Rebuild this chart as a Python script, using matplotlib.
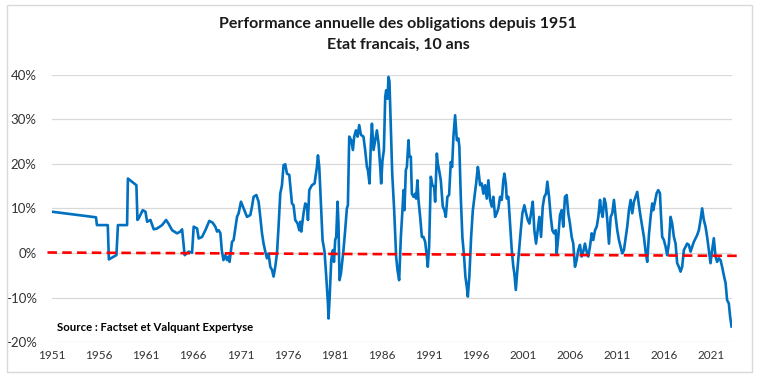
import matplotlib
matplotlib.use("Agg")
import matplotlib.pyplot as plt
from matplotlib.patches import Rectangle
from matplotlib.ticker import FuncFormatter

plt.rcParams['font.family'] = ['Lato', 'DejaVu Sans']

# Performance annuelle (en %) de l'OAT 10 ans
years = [
    1951.00, 1955.67, 1955.77, 1956.92, 1957.04, 1957.84, 1958.00, 1958.97, 1959.06, 1959.96,
    1960.07, 1960.20, 1960.63, 1960.92, 1961.10, 1961.45, 1961.80, 1962.16, 1962.69, 1963.11,
    1963.39, 1963.75, 1964.28, 1964.63, 1964.81, 1965.08, 1965.51, 1965.87, 1966.04, 1966.40,
    1966.57, 1966.93, 1967.28, 1967.70, 1968.05, 1968.34, 1968.52, 1968.69, 1968.87, 1969.03,
    1969.20, 1969.40, 1969.58, 1969.75, 1969.85, 1970.11, 1970.28, 1970.64, 1970.81, 1971.06,
    1971.34, 1971.70, 1972.05, 1972.23, 1972.40, 1972.69, 1972.93, 1973.11, 1973.29, 1973.46,
    1973.64, 1973.82, 1973.99, 1974.17, 1974.35, 1974.52, 1974.70, 1974.88, 1975.05, 1975.23,
    1975.41, 1975.58, 1975.76, 1975.94, 1976.19, 1976.47, 1976.64, 1976.82, 1977.07, 1977.25,
    1977.35, 1977.46, 1977.70, 1977.88, 1978.06, 1978.17, 1978.31, 1978.59, 1978.87, 1979.12,
    1979.23, 1979.37, 1979.55, 1979.72, 1979.93, 1980.11, 1980.29, 1980.35, 1980.46, 1980.64,
    1980.82, 1980.93, 1981.06, 1981.17, 1981.31, 1981.41, 1981.52, 1981.67, 1981.94, 1982.12,
    1982.30, 1982.41, 1982.55, 1982.76, 1982.94, 1983.08, 1983.26, 1983.43, 1983.61, 1983.79,
    1984.06, 1984.24, 1984.43, 1984.53, 1984.70, 1984.85, 1984.96, 1985.13, 1985.31, 1985.49,
    1985.66, 1985.84, 1985.94, 1986.08, 1986.23, 1986.37, 1986.47, 1986.61, 1986.72, 1986.82,
    1986.95, 1987.11, 1987.32, 1987.53, 1987.67, 1987.85, 1988.03, 1988.20, 1988.31, 1988.41,
    1988.56, 1988.67, 1988.84, 1988.94, 1989.09, 1989.20, 1989.37, 1989.55, 1989.65, 1989.79,
    1989.90, 1990.08, 1990.26, 1990.43, 1990.61, 1990.79, 1990.89, 1991.03, 1991.21, 1991.38,
    1991.56, 1991.67, 1991.85, 1991.95, 1992.09, 1992.27, 1992.48, 1992.65, 1992.80, 1992.97,
    1993.15, 1993.33, 1993.47, 1993.61, 1993.79, 1993.97, 1994.14, 1994.24, 1994.39, 1994.56,
    1994.74, 1994.88, 1995.03, 1995.14, 1995.30, 1995.49, 1995.67, 1995.84, 1996.02, 1996.20,
    1996.26, 1996.44, 1996.62, 1996.79, 1996.97, 1997.15, 1997.32, 1997.50, 1997.68, 1997.85,
    1998.03, 1998.21, 1998.38, 1998.56, 1998.74, 1998.91, 1999.02, 1999.17, 1999.27, 1999.44,
    1999.62, 1999.80, 1999.97, 2000.08, 2000.23, 2000.40, 2000.58, 2000.76, 2000.93, 2001.14,
    2001.32, 2001.50, 2001.67, 2001.85, 2002.03, 2002.20, 2002.38, 2002.56, 2002.73, 2002.91,
    2003.09, 2003.26, 2003.44, 2003.58, 2003.76, 2003.94, 2004.11, 2004.29, 2004.47, 2004.57,
    2004.74, 2004.92, 2005.10, 2005.27, 2005.45, 2005.63, 2005.80, 2005.98, 2006.16, 2006.33,
    2006.51, 2006.69, 2006.86, 2007.04, 2007.22, 2007.39, 2007.57, 2007.75, 2007.92, 2008.10,
    2008.29, 2008.45, 2008.64, 2008.82, 2008.99, 2009.17, 2009.28, 2009.45, 2009.62, 2009.77,
    2009.94, 2010.12, 2010.30, 2010.47, 2010.65, 2010.83, 2011.00, 2011.18, 2011.36, 2011.53,
    2011.71, 2011.89, 2012.06, 2012.24, 2012.42, 2012.59, 2012.77, 2012.95, 2013.12, 2013.30,
    2013.48, 2013.65, 2013.83, 2014.01, 2014.18, 2014.36, 2014.54, 2014.71, 2014.82, 2015.00,
    2015.18, 2015.35, 2015.53, 2015.63, 2015.77, 2015.95, 2016.13, 2016.30, 2016.48, 2016.66,
    2016.83, 2017.01, 2017.19, 2017.36, 2017.54, 2017.72, 2017.89, 2018.07, 2018.25, 2018.42,
    2018.60, 2018.78, 2018.95, 2019.13, 2019.31, 2019.48, 2019.66, 2019.84, 2020.01, 2020.19,
    2020.37, 2020.54, 2020.72, 2020.90, 2021.07, 2021.25, 2021.43, 2021.60, 2021.78, 2021.96,
    2022.13, 2022.31, 2022.50, 2022.66, 2022.84, 2022.98, 2023.13,
]
perf = [
    9.25, 8.0, 6.25, 6.25, -1.45, -0.47, 6.25, 6.25, 16.7, 15.2,
    7.4, 7.75, 9.6, 9.25, 7.0, 7.4, 5.3, 5.5, 6.25, 7.4,
    6.5, 5.1, 4.4, 4.8, 5.3, -0.5, 0.3, 0.05, 5.9, 5.5,
    3.25, 3.6, 5.1, 7.2, 6.8, 5.9, 4.8, 5.1, 4.5, 0.5,
    -1.6, -0.5, -1.6, -0.8, -2.0, 2.5, 2.9, 8.1, 8.9, 11.5,
    10.0, 8.1, 8.5, 10.4, 12.6, 13.0, 11.5, 8.1, 4.4, 2.1,
    0.3, -1.2, -0.1, -3.1, -3.8, -5.3, -3.1, -0.1, 5.9, 13.3,
    15.2, 19.7, 19.9, 17.8, 17.5, 11.1, 10.7, 7.4, 6.6, 5.1,
    7.0, 4.8, 8.9, 11.1, 10.7, 7.4, 14.1, 15.2, 15.6, 19.3,
    21.9, 19.3, 11.1, 2.9, 0.3, -5.3, -11.3, -14.7, -10.6, -1.6,
    0.65, -2.0, 2.9, 3.6, 11.5, 6.6, -6.1, -4.6, 0.65, 5.1,
    10.0, 10.7, 26.1, 25.3, 23.1, 26.1, 27.5, 26.1, 28.7, 26.5,
    26.1, 23.1, 19.3, 18.6, 15.6, 24.6, 29.0, 23.1, 25.3, 27.5,
    24.6, 19.3, 15.6, 20.8, 23.1, 35.0, 36.5, 34.6, 39.5, 38.5,
    29.0, 18.0, 9.6, -0.8, -3.8, -6.1, 3.6, 9.6, 14.1, 9.6,
    18.6, 19.3, 25.3, 21.6, 21.6, 13.3, 12.6, 13.3, 12.2, 16.3,
    11.9, 8.1, 3.6, 3.6, 2.5, -0.8, -3.1, 1.4, 17.1, 15.2,
    14.8, 11.5, 22.3, 20.1, 18.6, 16.3, 10.4, 9.6, 8.1, 12.6,
    13.0, 20.4, 19.3, 26.1, 30.9, 25.3, 25.7, 23.8, 12.6, 3.6,
    -0.8, -5.3, -7.6, -9.8, -5.3, 3.6, 9.6, 12.6, 15.6, 19.3,
    18.6, 15.2, 15.6, 13.3, 15.2, 12.2, 16.3, 11.9, 10.4, 12.6,
    8.1, 8.9, 10.0, 12.6, 11.9, 16.3, 17.8, 15.6, 12.2, 12.6,
    6.6, 0.65, -3.1, -4.6, -8.3, -3.8, 0.65, 5.1, 8.9, 10.7,
    8.9, 7.4, 6.6, 8.9, 11.5, 5.1, 2.1, 5.1, 8.1, 3.6,
    10.4, 12.6, 13.3, 16.0, 12.6, 8.1, 5.1, 4.4, 5.1, -0.1,
    3.6, 8.5, 9.6, 5.9, 12.6, 13.0, 8.9, 6.6, 3.6, 2.1,
    -3.1, -1.6, 0.65, 1.8, -0.8, 0.3, 2.1, 0.3, -0.8, 1.4,
    4.4, 2.9, 5.1, 5.9, 8.1, 11.9, 9.6, 8.1, 12.2, 11.1,
    7.4, 2.1, 8.1, 8.9, 11.9, 8.1, 5.1, 2.9, 1.4, -0.1,
    0.65, 3.3, 5.9, 9.6, 11.9, 8.9, 11.5, 12.6, 13.7, 10.7,
    8.1, 5.9, 3.6, 0.3, -2.0, 4.0, 8.1, 11.1, 9.6, 11.5,
    13.4, 14.1, 13.4, 8.9, 3.6, 2.9, 1.4, -0.5, 2.1, 8.1,
    6.6, 3.6, 2.1, -2.3, -3.1, -4.2, -3.1, 0.65, 1.4, 2.1,
    1.8, 0.3, 1.4, 2.5, 3.3, 4.0, 5.1, 7.4, 10.0, 7.4,
    5.9, 3.6, 0.65, -2.3, 0.65, 3.3, -0.8, -2.0, -1.2, -1.6,
    -3.1, -5.0, -6.8, -10.6, -11.3, -14.3, -16.5,
]

# droite de tendance (pointillés rouges)
trend_years = [1950.52, 2023.81]
trend_perf = [0.1, -0.65]

tick_years = list(range(1951, 2022, 5))
y_ticks = [-20, -10, 0, 10, 20, 30, 40]

fig = plt.figure(figsize=(7.6, 3.77), dpi=100)
ax = fig.add_axes([0.0684, 0.0926, 0.8944, 0.7093])

ax.plot(years, perf, color='#0070C0', lw=1.9, zorder=3, solid_joinstyle='round')
ax.plot(trend_years, trend_perf, color='#FF0000', lw=1.9, dashes=(3.6, 2.0),
        zorder=4, clip_on=False)

ax.set_xlim(1951.0, 2023.15)
ax.set_ylim(-20, 40)
ax.set_yticks(y_ticks)
ax.yaxis.set_major_formatter(FuncFormatter(lambda v, p: f"{v:.0f}%"))
ax.set_xticks(tick_years)
ax.set_xticklabels([str(y) for y in tick_years])
ax.grid(axis='y', color='#D9D9D9', lw=0.9, zorder=0)
ax.set_axisbelow(True)
for s in ax.spines.values():
    s.set_visible(False)
ax.tick_params(axis='y', length=0, pad=11, labelsize=9.5, labelcolor='#333333')
ax.tick_params(axis='x', length=0, pad=6, labelsize=8.5, labelcolor='#333333')

fig.text(0.524, 0.936, "Performance annuelle des obligations depuis 1951",
         ha='center', va='center', fontsize=11.5, fontweight='bold', color='#1a1a1a')
fig.text(0.524, 0.880, "Etat francais, 10 ans",
         ha='center', va='center', fontsize=11.5, fontweight='bold', color='#1a1a1a')
fig.text(0.075, 0.13, "Source : Factset et Valquant Expertyse",
         ha='left', va='center', fontsize=8.2, fontweight='bold', color='black')

fig.patches.append(Rectangle((0.009, 0.013), 0.98, 0.975, transform=fig.transFigure,
                             fill=False, edgecolor='#D9D9D9', lw=1))

fig.savefig('out.png', dpi=100, facecolor='white')
